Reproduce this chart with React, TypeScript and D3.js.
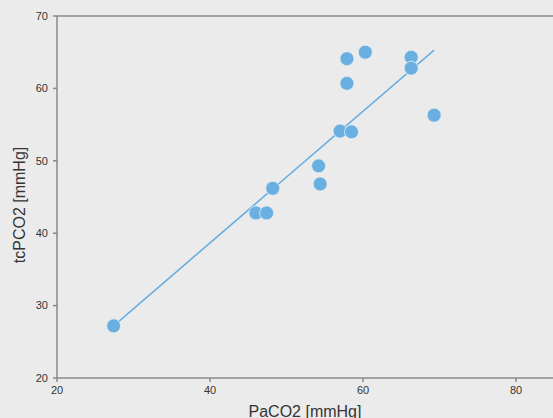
import React from "react";
import * as d3 from "d3";

const paco2 = [27.4, 46.0, 47.4, 48.2, 54.2, 54.4, 57.0, 58.5, 57.9, 57.9, 60.3, 66.3, 66.3, 69.3];
const tcpco2 = [27.2, 42.8, 42.8, 46.2, 49.3, 46.8, 54.1, 54.0, 60.7, 64.1, 65.0, 64.3, 62.8, 56.3];
const fitX = [27.4, 69.3];
const fitY = [27.2, 65.3];
const xTicks = [20, 40, 60, 80];
const yTicks = [20, 30, 40, 50, 60, 70];

const W = 553, H = 418;
const m = { left: 57, top: 16, bottom: 378, right: 554 };

export default function App() {
  const x = d3.scaleLinear().domain([20, 80]).range([m.left, 516]);
  const y = d3.scaleLinear().domain([20, 70]).range([m.bottom, m.top]);
  const line = d3.line<number>().x((d) => x(fitX[d])).y((d) => y(fitY[d]));
  const blue = "#69afe2";
  const axis = "#8a8a8a";
  const font = "'Liberation Sans', Arial, sans-serif";
  return (
    <svg width={W} height={H} style={{ position: "fixed", left: 0, top: 0, display: "block" }}>
      <rect x={0} y={0} width={W} height={H} fill="#ebebeb" />
      <line x1={m.left} x2={W} y1={m.top} y2={m.top} stroke={axis} strokeWidth={1.5} />
      <line x1={m.left} x2={W} y1={m.bottom} y2={m.bottom} stroke={axis} strokeWidth={1.5} />
      <line x1={m.left} x2={m.left} y1={m.top} y2={m.bottom} stroke={axis} strokeWidth={1.5} />
      {yTicks.map((t) => (
        <g key={"y" + t}>
          <line x1={m.left - 4} x2={m.left} y1={y(t)} y2={y(t)} stroke={axis} strokeWidth={1.5} />
          <text x={m.left - 9} y={y(t)} dy="0.35em" textAnchor="end" fontSize={11} fill="#333" fontFamily={font}>{t}</text>
        </g>
      ))}
      {xTicks.map((t) => (
        <g key={"x" + t}>
          <line x1={x(t)} x2={x(t)} y1={m.bottom} y2={m.bottom + 4} stroke={axis} strokeWidth={1.5} />
          <text x={x(t)} y={m.bottom + 16} textAnchor="middle" fontSize={11} fill="#333" fontFamily={font}>{t}</text>
        </g>
      ))}
      <path d={line([0, 1]) || ""} stroke={blue} strokeWidth={1.6} fill="none" />
      {paco2.map((v, i) => (
        <circle key={i} cx={x(v)} cy={y(tcpco2[i])} r={7} fill={blue} stroke="#ebebeb" strokeWidth={0.8} />
      ))}
      <text x={305} y={417} textAnchor="middle" fontSize={16} fill="#333" fontFamily={font}>PaCO2 [mmHg]</text>
      <text transform={`translate(25,205) rotate(-90)`} textAnchor="middle" fontSize={16} fill="#333" fontFamily={font}>tcPCO2 [mmHg]</text>
    </svg>
  );
}
